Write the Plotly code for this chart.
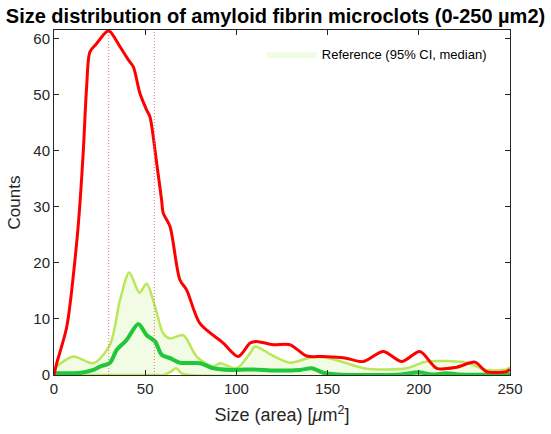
import plotly.graph_objects as go

# Sample (red)
sample_x = [0, 1.5, 7, 12.4, 14.3, 16, 17.9, 19.7, 23.4, 28.9, 30.7, 36.2, 40.7, 43.5, 47.1, 50.8, 52.6, 56.3, 59, 59.9, 63.6, 69, 72.7, 80, 92.8, 101, 107.5, 111, 120.2, 129.4, 138.5, 147.6, 158.6, 169.6, 180.5, 190.6, 200.6, 209.8, 220.8, 230.8, 237.2, 248, 250]
sample_y = [0, 2.1, 8.6, 23.5, 31, 39.6, 51.5, 57.7, 59.2, 61.3, 61.3, 58.6, 56.3, 55, 50.3, 47.3, 46.1, 37.8, 31.2, 28.9, 26.5, 17, 15.2, 9.2, 5.7, 3.3, 5.7, 6, 5.4, 5.4, 3.4, 3.3, 3.1, 2.4, 4.2, 2.4, 4.2, 1.2, 1.4, 2.3, 0.6, 0.6, 1]

# Reference upper 95% CI (light green)
upper_x = [0, 1.5, 10.6, 21.6, 30.7, 36.2, 41.3, 46.8, 50.8, 55.4, 59.9, 63.6, 70.9, 78.2, 87.3, 91, 100.1, 107.5, 110.2, 120.2, 129.4, 140.4, 149.5, 160.5, 171.4, 193.3, 204.2, 226.2, 237.2, 248, 250]
upper_y = [0.8, 1.5, 3.3, 2.1, 5.4, 13.4, 18.3, 14.7, 16.3, 12.2, 7.4, 6.5, 7.1, 3.3, 1.5, 2.1, 1.2, 3.9, 5.1, 3.4, 2.2, 3.1, 3.1, 2.1, 1.1, 1.2, 2.4, 2.2, 0.9, 1, 1.4]

# Reference lower 95% CI (light green)
lower_x = [0, 55, 60, 64, 67, 70, 75, 250]
lower_y = [0, 0, 0, 0.6, 1.2, 0.3, 0, 0]

# Reference median (dark green)
median_x = [0, 15, 21.6, 25.2, 30.7, 34.4, 39.8, 46.2, 50.8, 55.4, 59, 63.6, 69, 80, 87.3, 96.5, 107.5, 109, 120, 134.8, 141.3, 147.6, 155, 190, 200, 207, 215, 222, 250]
median_y = [0.3, 0.4, 0.9, 1.5, 2.2, 4.5, 6.25, 9.1, 7.1, 6.0, 3.6, 3.0, 2.2, 2.1, 1.2, 0.9, 1.0, 1.0, 0.8, 0.9, 1.2, 0.4, 0.1, 0.1, 0.5, 0.1, 0.3, 0.1, 0.1]

# Vertical marker lines
marker_x = [30, 55]

x_ticks = [0, 50, 100, 150, 200, 250]
y_ticks = [0, 10, 20, 30, 40, 50, 60]

RED = "#ff0000"
LIGHT = "#b8e85a"
DARK = "#1fc838"
FILL = "#f2fbe3"
FONT = "Liberation Sans, Arial"

fig = go.Figure()

band_x = upper_x + lower_x[::-1]
band_y = upper_y + lower_y[::-1]
fig.add_trace(go.Scatter(x=band_x, y=band_y, mode="lines", fill="toself", fillcolor=FILL,
                         line=dict(width=0, shape="spline", smoothing=0.8),
                         name="Reference (95% CI, median)", showlegend=True))

fig.add_trace(go.Scatter(x=lower_x, y=lower_y, mode="lines",
                         line=dict(color=LIGHT, width=2.5, shape="spline", smoothing=0.8), showlegend=False))
fig.add_trace(go.Scatter(x=upper_x, y=upper_y, mode="lines",
                         line=dict(color=LIGHT, width=2.5, shape="spline", smoothing=0.8), showlegend=False))
fig.add_trace(go.Scatter(x=median_x, y=median_y, mode="lines",
                         line=dict(color=DARK, width=4, shape="spline", smoothing=0.8), showlegend=False))
fig.add_trace(go.Scatter(x=sample_x, y=sample_y, mode="lines",
                         line=dict(color=RED, width=3, shape="spline", smoothing=0.8), showlegend=False))

for mx in marker_x:
    fig.add_vline(x=mx, line=dict(color="#e07090", width=1, dash="1px,2px"))

axis_common = dict(
    showline=True, linecolor="#262626", linewidth=1, mirror="ticks",
    ticks="inside", ticklen=5, tickcolor="#262626",
    showgrid=False, zeroline=False,
    tickfont=dict(family=FONT, size=15, color="#262626"),
)

fig.update_layout(
    width=551, height=434,
    margin=dict(l=54, r=41, t=30, b=59),
    paper_bgcolor="white", plot_bgcolor="white",
    title=dict(text="<b>Size distribution of amyloid fibrin microclots (0-250 µm2)</b>",
               x=0.5, xanchor="center", y=0.962, yanchor="middle",
               font=dict(family=FONT, size=20, color="black")),
    xaxis=dict(range=[0, 250], tickvals=x_ticks,
               title=dict(text="Size (area) [<i>μ</i>m<sup>2</sup>]", standoff=12,
                          font=dict(family=FONT, size=18, color="#262626")),
               **axis_common),
    yaxis=dict(range=[0, 61.6], tickvals=y_ticks,
               title=dict(text="Counts", standoff=8,
                          font=dict(family=FONT, size=17, color="#262626")),
               **axis_common),
    legend=dict(x=0.96, y=0.93, xanchor="right", yanchor="middle",
                bgcolor="rgba(0,0,0,0)", borderwidth=0,
                font=dict(family=FONT, size=13, color="black"),
                itemwidth=50),
    showlegend=True,
)

fig.write_html("out.html")
